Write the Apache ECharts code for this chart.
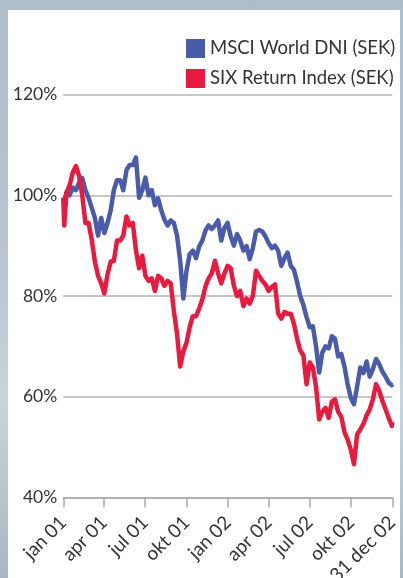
<!DOCTYPE html>
<html>
<head>
<meta charset="utf-8">
<script src="https://cdn.jsdelivr.net/npm/echarts@6/dist/echarts.min.js"></script>
<style>
html,body{margin:0;padding:0;}
body{width:403px;height:578px;position:relative;overflow:hidden;
background:linear-gradient(180deg,#aebdca 0%,#b6c4cf 40%,#c9d3db 70%,#aab6c0 100%);}
#panel{position:absolute;left:8px;top:10px;width:392px;height:568px;background:#fff;}
#chart{position:absolute;left:0;top:0;width:403px;height:578px;}
</style>
</head>
<body>
<div id="panel"></div>
<div id="chart"></div>
<script>
const seriesNames = ['MSCI World DNI (SEK)', 'SIX Return Index (SEK)'];
const tickDates = ['2001-01-01','2001-04-01','2001-07-01','2001-10-01','2002-01-01','2002-04-01','2002-07-01','2002-10-01','2002-12-31'];
const tickLabels = ['jan 01','apr 01','jul 01','okt 01','jan 02','apr 02','jul 02','okt 02','31 dec 02'];
const yTicks = [40, 60, 80, 100, 120];

const dates = [
'2001-01-01','2001-01-03','2001-01-08','2001-01-15','2001-01-22','2001-01-29','2001-02-05','2001-02-12','2001-02-19','2001-02-26',
'2001-03-05','2001-03-12','2001-03-19','2001-03-26','2001-04-02','2001-04-09','2001-04-16','2001-04-23','2001-04-30',
'2001-05-07','2001-05-14','2001-05-21','2001-05-28','2001-06-04','2001-06-11','2001-06-18','2001-06-25',
'2001-07-02','2001-07-09','2001-07-16','2001-07-23','2001-07-30','2001-08-06','2001-08-13','2001-08-20','2001-08-27',
'2001-09-03','2001-09-10','2001-09-17','2001-09-24','2001-10-01','2001-10-08','2001-10-15','2001-10-22','2001-10-29',
'2001-11-05','2001-11-12','2001-11-19','2001-11-26','2001-12-03','2001-12-10','2001-12-17','2001-12-24','2001-12-31',
'2002-01-07','2002-01-14','2002-01-21','2002-01-28','2002-02-04','2002-02-11','2002-02-18','2002-02-25',
'2002-03-04','2002-03-11','2002-03-18','2002-03-25','2002-04-01','2002-04-08','2002-04-15','2002-04-22','2002-04-29',
'2002-05-06','2002-05-13','2002-05-20','2002-05-27','2002-06-03','2002-06-10','2002-06-17','2002-06-24',
'2002-07-01','2002-07-08','2002-07-15','2002-07-22','2002-07-29','2002-08-05','2002-08-12','2002-08-19','2002-08-26',
'2002-09-02','2002-09-09','2002-09-16','2002-09-23','2002-09-30','2002-10-07','2002-10-14','2002-10-21','2002-10-28',
'2002-11-04','2002-11-11','2002-11-18','2002-11-25','2002-12-02','2002-12-09','2002-12-16','2002-12-23','2002-12-30','2002-12-31'
];

const msciWorld = [
98.5,99,100.5,100,101.5,101,102.5,103.4,101,99.5,
97.5,95.5,92,95.5,92.5,94.5,97,101,103,
103,101,105,106,106,107.5,99.5,101,
103.5,100,101,98,99.4,97,95.2,94,95,
94.5,92,87,79.5,85,88.3,89,87.5,89.8,
91,93,94,93.3,94,95,91,93.5,94.5,
91.8,90,92.3,91,89,89.9,87.3,89.5,
92.8,93.1,92.8,91.8,90.5,89.5,90,89,86,
87.5,88.6,86,85.2,82.8,80,78.2,75.8,
73.8,74,70,64.8,68.8,70,69.6,72,71.5,
68,68.5,66,62.5,59.8,58.5,62,65.8,64.7,
67,64,65.5,67.5,66.5,65,64,62.8,62.3,62.5
];

const sixReturn = [
99.5,94,100.5,102,104.5,105.8,103.8,100,94.5,94.5,
91.2,86.8,84,82.5,80.5,84.3,86.8,87,91,
91,92,95.8,94,94.5,89,85.5,88,
84,83,83.5,81,84,83.5,82,83,82.5,
77,72.5,66,69,70.7,73.8,76,76,77.5,
79.3,81.9,83.5,84.5,87,84.5,82.5,84.5,86,
85.5,82,80,81,78,79.5,78.5,80,
85,84,83,82.3,81,81.8,82.3,76.5,75.5,
76.8,76.5,76.5,74.5,71.5,69.2,68.2,62.5,
66.8,65.8,62,55.5,57,57.8,55.8,59,59.5,
57,56,53,51.5,49.5,46.6,52.5,53.5,54.6,
56.3,57.5,59.5,62.5,61.2,59.2,57.5,55.8,54.2,55
];

// day number since the first tick date (UTC based, no DST issues)
function dayNum(s){const p=s.split('-').map(Number);return Math.round((Date.UTC(p[0],p[1]-1,p[2]) - Date.UTC(2001,0,1))/86400000);}
const tickDays = tickDates.map(dayNum);
const labelMap = {};
tickDays.forEach((t,i)=>{labelMap[t]=tickLabels[i];});

const chart = echarts.init(document.getElementById('chart'), null, {renderer:'canvas'});
const font = 'Lato, "Open Sans", sans-serif';
chart.setOption({
  backgroundColor: 'transparent',
  animation: false,
  color: ['#4a5ba9', '#ea1a3e'],
  textStyle: {fontFamily: font},
  legend: {
    orient: 'vertical', left: 181, top: 34, itemWidth: 19, itemHeight: 19, itemGap: 11,
    icon: 'rect',
    textStyle: {fontSize: 18.5, color: '#333', fontFamily: font},
    data: seriesNames
  },
  grid: {left: 63.3, right: 10.7, top: 94.5, bottom: 80.5, containLabel: false, outerBoundsMode: 'none'},
  xAxis: {
    type: 'value',
    min: tickDays[0], max: tickDays[tickDays.length-1],
    axisLine: {show: true, lineStyle: {color: '#aaaaaa', width: 1.5}},
    axisTick: {show: true, length: 10, lineStyle: {color: '#aaaaaa', width: 1.5}, customValues: tickDays},
    splitLine: {show: false},
    axisLabel: {
      customValues: tickDays, rotate: 45, margin: 22, fontSize: 19, color: '#333', fontFamily: font,
      formatter: function(v){ return labelMap[Math.round(v)] || ''; }
    }
  },
  yAxis: {
    type: 'value', min: yTicks[0], max: yTicks[yTicks.length-1], interval: 20,
    axisLine: {show: false}, axisTick: {show: false},
    splitLine: {show: true, lineStyle: {color: '#b5b5b5', width: 1.5}},
    axisLabel: {fontSize: 17.5, color: '#333', margin: 6, fontFamily: font, formatter: '{value}%'}
  },
  series: [
    {name: seriesNames[0], type: 'line', showSymbol: false, symbol: 'none',
     lineStyle: {width: 4.5, join: 'round'}, data: dates.map((d,i)=>[dayNum(d), msciWorld[i]])},
    {name: seriesNames[1], type: 'line', showSymbol: false, symbol: 'none',
     lineStyle: {width: 4.5, join: 'round'}, data: dates.map((d,i)=>[dayNum(d), sixReturn[i]])}
  ]
});
</script>
</body>
</html>
